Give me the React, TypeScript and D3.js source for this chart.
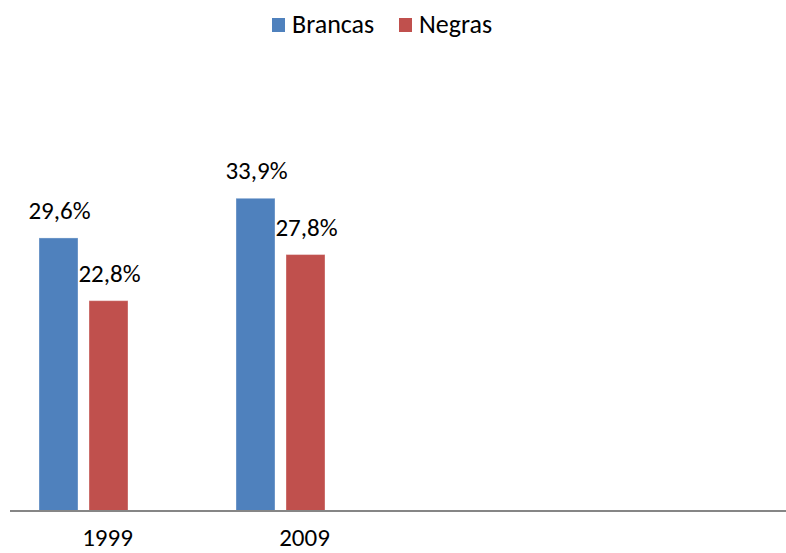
import React from "react";
import * as d3 from "d3";

const categories = ["1999", "2009"];
const seriesNames = ["Brancas", "Negras"];
const brancas = [29.6, 33.9];
const negras = [22.8, 27.8];
const seriesColors = ["#4F81BD", "#C0504D"];
const labelText = (v: number) => v.toFixed(1).replace(".", ",") + "%";

const W = 786;
const H = 553;
const FONT = "Carlito, Calibri, 'Open Sans', sans-serif";

export default function App() {
  const baseY = 511;
  const y = d3.scaleLinear().domain([0, 40]).range([baseY, 142]);
  const x = d3.scaleBand<string>().domain(categories).range([-15, 379]).padding(0);
  const inner = d3
    .scaleBand<string>()
    .domain(seriesNames)
    .range([54, 143])
    .paddingInner(0.22)
    .paddingOuter(0);
  const values = [brancas, negras];

  return (
    <svg
      width={W}
      height={H}
      style={{ position: "absolute", left: 0, top: 0, background: "#fff" }}
      fontFamily={FONT}
    >
      <rect x={0} y={0} width={W} height={H} fill="#fff" />
      {/* legend */}
      <g>
        <rect x={272} y={18} width={13} height={14} fill={seriesColors[0]} />
        <text x={292} y={33} fontSize={26} fill="#000">
          {seriesNames[0]}
        </text>
        <rect x={399} y={18} width={13} height={14} fill={seriesColors[1]} />
        <text x={419} y={33} fontSize={26} fill="#000">
          {seriesNames[1]}
        </text>
      </g>
      {/* bars */}
      {categories.map((c, ci) => (
        <g key={c} transform={`translate(${x(c)},0)`}>
          {seriesNames.map((s, si) => {
            const v = values[si][ci];
            const bx = inner(s)!;
            const bw = inner.bandwidth();
            return (
              <g key={s}>
                <rect
                  x={bx}
                  y={y(v)}
                  width={bw}
                  height={baseY - y(v)}
                  fill={seriesColors[si]}
                  stroke="#ffffff"
                  strokeOpacity={0.35}
                  strokeWidth={1}
                />
                <text
                  x={bx + bw / 2 + 1}
                  y={y(v) - 19}
                  fontSize={25}
                  textAnchor="middle"
                  fill="#000"
                >
                  {labelText(v)}
                </text>
              </g>
            );
          })}
          <text
            x={(54 + 143) / 2 + 24}
            y={546}
            fontSize={25}
            textAnchor="middle"
            fill="#000"
          >
            {c}
          </text>
        </g>
      ))}
      {/* axis line */}
      <line x1={10} x2={786} y1={baseY} y2={baseY} stroke="#868686" strokeWidth={2} />
    </svg>
  );
}
